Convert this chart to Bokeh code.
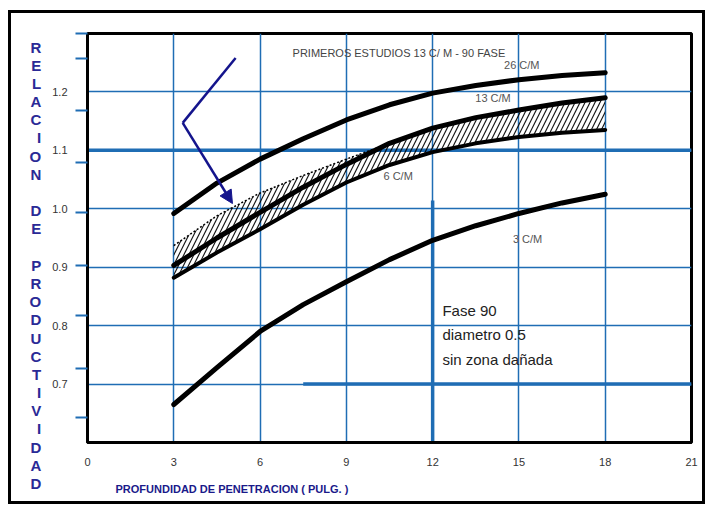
from bokeh.plotting import figure
from bokeh.models import FixedTicker, Label, Span, Arrow, NormalHead, Title
from bokeh.embed import file_html
from bokeh.resources import INLINE

# ---- data ----
penetration = [3, 4.5, 6, 7.5, 9, 10.5, 12, 13.5, 15, 16.5, 18]
ratio_26cm = [0.992, 1.044, 1.085, 1.120, 1.152, 1.178, 1.198, 1.211, 1.221, 1.228, 1.233]
ratio_13cm = [0.903, 0.950, 0.994, 1.037, 1.076, 1.112, 1.138, 1.156, 1.169, 1.181, 1.190]
ratio_6cm = [0.882, 0.925, 0.965, 1.007, 1.045, 1.075, 1.097, 1.112, 1.123, 1.130, 1.135]
ratio_3cm = [0.665, 0.728, 0.790, 0.836, 0.875, 0.913, 0.946, 0.971, 0.992, 1.010, 1.025]
band_upper = [0.937, 0.988, 1.027, 1.057, 1.085, 1.112, 1.138, 1.156, 1.169, 1.181, 1.190]

x_ticks = [0, 3, 6, 9, 12, 15, 18, 21]
x_grid = [3, 6, 9, 12, 15, 18]
y_ticks = [0.7, 0.8, 0.9, 1.0, 1.1, 1.2]
y_tick_labels = ["0.7", "0.8", "0.9", "1.0", "1.1", "1.2"]
y_minor_ticks = [0.642, 0.727, 0.817, 0.903, 0.994, 1.080, 1.169, 1.258, 1.300]

curve_names = ["26 C/M", "13 C/M", "6 C/M", "3 C/M"]
curve_label_x = [15.1, 14.1, 10.8, 15.3]
curve_label_y = [1.236, 1.180, 1.045, 0.938]

thick_x0 = [7.5, 12.0]
thick_y0 = [0.7, 0.6]
thick_x1 = [21.0, 12.0]
thick_y1 = [0.7, 1.014]
thick_h = 1.1

arrow_x = [5.15, 3.31, 5.04]
arrow_y = [1.258, 1.147, 1.009]

note_lines = ["Fase 90", "diametro 0.5", "sin zona dañada"]
note_y = [0.826, 0.784, 0.742]
note_x = 12.34

title_text = "PRIMEROS ESTUDIOS 13 C/ M - 90  FASE"
x_title = "PROFUNDIDAD DE PENETRACION ( PULG. )"
y_title = "RELACION DE PRODUCTIVIDAD"

GRID = "#1f6db4"
NAVY = "#2a2a96"
FONT = "Liberation Sans"

p = figure(width=697, height=494, x_range=(0, 21), y_range=(0.6, 1.3),
           output_backend="svg", toolbar_location=None,
           min_border_left=76, min_border_right=17, min_border_top=20, min_border_bottom=65)
p.styles = {"border": "3px solid black", "margin-left": "8px", "margin-top": "10px"}
p.background_fill_color = "white"
p.border_fill_color = "white"
p.outline_line_color = "black"
p.outline_line_width = 3

# axes
p.xaxis.ticker = FixedTicker(ticks=x_ticks)
p.yaxis.ticker = FixedTicker(ticks=y_ticks, minor_ticks=y_minor_ticks)
p.yaxis.major_label_overrides = dict(zip(y_ticks, y_tick_labels))
for ax in (p.xaxis[0], p.yaxis[0]):
    ax.axis_line_color = "black"
    ax.axis_line_width = 3
    ax.major_tick_out = 0
    ax.major_tick_in = 0
    ax.major_label_text_font = FONT
    ax.major_label_text_font_size = "11px"
    ax.major_label_text_color = "#333333"
p.xaxis.minor_tick_out = 0
p.xaxis.minor_tick_in = 0
p.xaxis.major_label_standoff = 15
p.yaxis.minor_tick_out = 12
p.yaxis.minor_tick_in = 0
p.yaxis.minor_tick_line_color = GRID
p.yaxis.minor_tick_line_width = 2
p.yaxis.major_label_standoff = 8

# vertical stacked y title (upright letters)
vert_lines = ["\u00a0"] * 3 + [ch if ch != " " else "\u00a0" for ch in y_title]
yax = p.yaxis[0]
yax.axis_label = "\n".join(vert_lines)
yax.axis_label_orientation = "horizontal"
yax.axis_label_standoff = 8
yax.axis_label_text_font = FONT
yax.axis_label_text_font_size = "15px"
yax.axis_label_text_font_style = "bold"
yax.axis_label_text_color = NAVY
yax.axis_label_text_line_height = 1.07
yax.axis_label_text_align = "center"

# x title
p.add_layout(Title(text=x_title, align="left", offset=28, standoff=24, text_font=FONT,
                   text_font_size="11px", text_font_style="bold", text_color="#1a1a8a"), "below")

# grid
p.xgrid.ticker = FixedTicker(ticks=x_grid)
p.ygrid.ticker = FixedTicker(ticks=y_ticks)
p.grid.grid_line_color = GRID
p.grid.grid_line_width = 1.5
p.grid.grid_line_alpha = 1.0

p.add_layout(Span(location=thick_h, dimension="width", line_color=GRID, line_width=3.5,
                  level="underlay"))
p.segment(x0=thick_x0, y0=thick_y0, x1=thick_x1, y1=thick_y1, line_color=GRID, line_width=3.5)

# hatched band
p.varea(x=penetration, y1=ratio_6cm, y2=band_upper, fill_color="white", fill_alpha=0.0,
        hatch_pattern="/", hatch_color="black", hatch_weight=1.2, hatch_scale=10, hatch_alpha=0.9)
p.line(penetration, band_upper, line_color="black", line_width=1.5, line_dash="2 2")

# curves
for ys, w in ((ratio_26cm, 5), (ratio_13cm, 5), (ratio_6cm, 4), (ratio_3cm, 5)):
    p.line(penetration, ys, line_color="black", line_width=w, line_cap="round", line_join="round")

# arrow
p.line(arrow_x[:2], arrow_y[:2], line_color="#14148c", line_width=2.5)
p.add_layout(Arrow(x_start=arrow_x[1], y_start=arrow_y[1], x_end=arrow_x[2], y_end=arrow_y[2],
                   line_color="#14148c", line_width=2.5,
                   end=NormalHead(size=13, fill_color="#14148c", line_color="#14148c")))

# texts inside
p.add_layout(Label(x=10.88, y=1.267, text=title_text, text_font=FONT, text_font_size="11px",
                   text_color="#444444", text_align="center", text_baseline="middle"))
for name, lx, ly in zip(curve_names, curve_label_x, curve_label_y):
    p.add_layout(Label(x=lx, y=ly, text=name, text_font=FONT, text_font_size="11px",
                       text_color="#555555", text_align="center", text_baseline="bottom"))
for line, ly in zip(note_lines, note_y):
    p.add_layout(Label(x=note_x, y=ly, text=line, text_font=FONT, text_font_size="15px",
                       text_color="#222222", text_align="left", text_baseline="middle"))

open("out.html", "w").write(file_html(p, INLINE))
